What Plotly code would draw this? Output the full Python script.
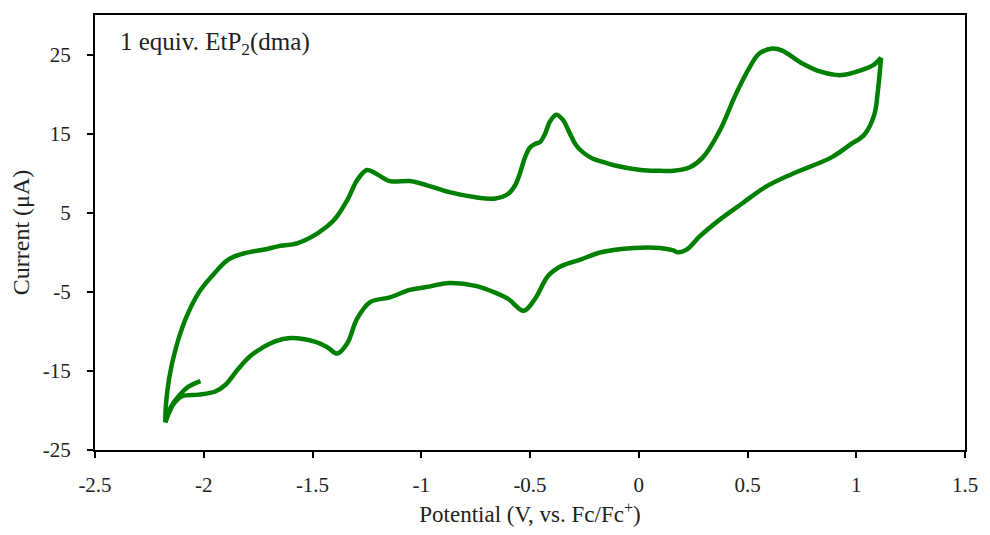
import plotly.graph_objects as go

# Cyclic voltammogram, 1 equiv. EtP2(dma)
# Initial segment from the starting potential down to the switching point
start_v = [-2.015, -2.07, -2.11, -2.15, -2.177]
start_i = [-16.3, -17.0, -18.0, -19.5, -21.5]

# Anodic sweep (towards positive potential)
fwd_v = [-2.177, -2.174, -2.159, -2.129, -2.083, -2.023, -1.962, -1.886, -1.81, -1.72,
         -1.66, -1.568, -1.477, -1.40, -1.34, -1.295, -1.25, -1.205, -1.144, -1.053,
         -0.977, -0.871, -0.75, -0.659, -0.6, -0.568, -0.545, -0.523, -0.5, -0.477,
         -0.455, -0.432, -0.409, -0.379, -0.35, -0.318, -0.29, -0.255, -0.215, -0.174,
         -0.114, 0.008, 0.098, 0.159, 0.235, 0.295, 0.371, 0.445, 0.507, 0.553,
         0.614, 0.66, 0.75, 0.84, 0.93, 1.02, 1.08, 1.114]
fwd_i = [-21.5, -19.3, -15.9, -12.2, -8.4, -5.1, -3.0, -0.9, -0.1, 0.35,
         0.75, 1.17, 2.4, 4.1, 6.6, 9.1, 10.4, 9.9, 9.0, 9.0,
         8.5, 7.6, 6.95, 6.8, 7.4, 8.5, 10.1, 12.0, 13.25, 13.7,
         13.9, 14.9, 16.5, 17.4, 16.8, 15.1, 13.6, 12.6, 11.9, 11.5,
         11.0, 10.4, 10.3, 10.3, 10.75, 12.0, 15.3, 19.9, 23.25, 25.1,
         25.75, 25.5, 23.9, 22.8, 22.4, 23.0, 23.7, 24.6]

# Cathodic sweep (back towards negative potential)
rev_v = [1.114, 1.099, 1.083, 1.038, 0.977, 0.886, 0.705, 0.582, 0.477,
         0.371, 0.28, 0.22, 0.18, 0.159, 0.098, -0.023, -0.174, -0.265, -0.356,
         -0.417, -0.477, -0.53, -0.6, -0.66, -0.75, -0.871, -0.977, -1.053, -1.144,
         -1.235, -1.295, -1.34, -1.386, -1.432, -1.49, -1.6, -1.675, -1.78, -1.84,
         -1.9, -1.947, -2.023, -2.1, -2.14, -2.177]
rev_i = [24.6, 20.3, 17.4, 14.9, 13.7, 12.0, 9.9, 8.25, 6.2,
         4.1, 2.0, 0.33, 0.0, 0.25, 0.55, 0.55, 0.0, -0.9, -1.75,
         -3.0, -5.9, -7.4, -5.9, -5.1, -4.25, -3.9, -4.4, -4.75, -5.7,
         -6.3, -8.4, -11.5, -12.8, -12.0, -11.3, -10.85, -11.3, -13.0, -14.7,
         -16.75, -17.6, -18.0, -18.2, -19.25, -21.5]

x_ticks = [-2.5, -2, -1.5, -1, -0.5, 0, 0.5, 1, 1.5]
x_tick_text = ["-2.5", "-2", "-1.5", "-1", "-0.5", "0", "0.5", "1", "1.5"]
y_ticks = [-25, -15, -5, 5, 15, 25]
y_tick_text = ["-25", "-15", "-5", "5", "15", "25"]

font_family = "Liberation Serif, DejaVu Serif, serif"
text_color = "#222222"
line_color = "#008000"

fig = go.Figure()
for xs, ys in [(start_v, start_i), (fwd_v, fwd_i), (rev_v, rev_i)]:
    fig.add_trace(go.Scatter(
        x=xs, y=ys, mode="lines",
        line=dict(color=line_color, width=4.5, shape="spline", smoothing=1.0),
        showlegend=False, hoverinfo="skip",
    ))

axis_common = dict(
    showline=True, linecolor="black", linewidth=2, mirror=True,
    ticks="outside", ticklen=6, tickwidth=2, tickcolor="black",
    showgrid=False, zeroline=False,
    tickfont=dict(family=font_family, size=21, color=text_color),
)

fig.update_xaxes(
    range=[-2.5, 1.5], tickvals=x_ticks, ticktext=x_tick_text,
    ticklabelstandoff=9,
    title=dict(text="Potential (V, vs. Fc/Fc<sup>+</sup>)",
               font=dict(family=font_family, size=23, color=text_color), standoff=10),
    **axis_common,
)
fig.update_yaxes(
    range=[-25, 30], tickvals=y_ticks, ticktext=y_tick_text,
    ticklabelstandoff=12,
    title=dict(text="Current (μA)",
               font=dict(family=font_family, size=24, color=text_color), standoff=6),
    **axis_common,
)

fig.add_annotation(
    x=0.026, y=0.975, xref="paper", yref="paper", xanchor="left", yanchor="top",
    text="1 equiv. EtP<sub>2</sub>(dma)", showarrow=False,
    font=dict(family=font_family, size=25, color=text_color),
)

fig.update_layout(
    width=990, height=535,
    margin=dict(l=95, r=15, t=15, b=79),
    paper_bgcolor="white", plot_bgcolor="white",
)

fig.write_html("out.html")
